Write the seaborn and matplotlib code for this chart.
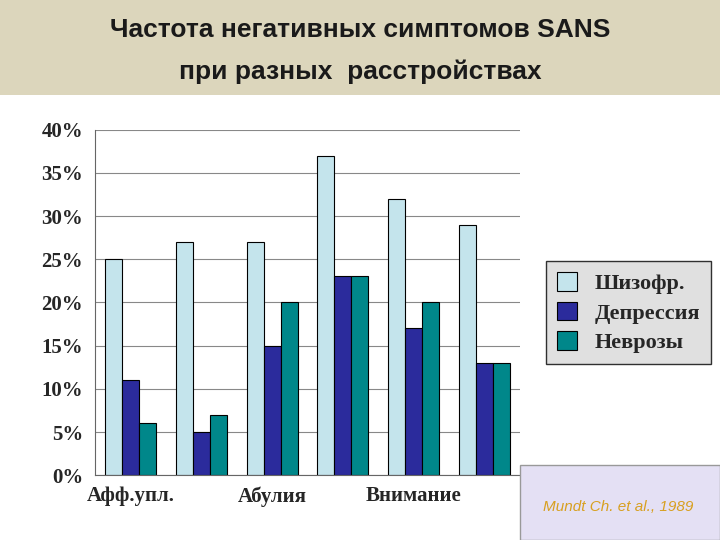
import pandas as pd
import numpy as np
import matplotlib.pyplot as plt
import seaborn as sns
from matplotlib.patches import Rectangle

categories = ['Афф.упл.', 'Алогия', 'Абулия', 'Ангедония', 'Внимание', 'Прочее']
tick_labels = ['Афф.упл.', '', 'Абулия', '', 'Внимание', '']
groups = ['Шизофр.', 'Депрессия', 'Неврозы']
schizo = [25, 27, 27, 37, 32, 29]
depr = [11, 5, 15, 23, 17, 13]
neur = [6, 7, 20, 23, 20, 13]
colors = ['#c4e4ec', '#2b2b9c', '#00878a']

rows = []
for i, c in enumerate(categories):
    for g, vals in zip(groups, [schizo, depr, neur]):
        rows.append({'cat': c, 'grp': g, 'val': vals[i] / 100})
df = pd.DataFrame(rows)

sns.set_style('white')
fig = plt.figure(figsize=(7.2, 5.4), dpi=100)
fig.patch.set_facecolor('white')
fig.patches.append(Rectangle((0, 1 - 95 / 540), 1, 95 / 540, transform=fig.transFigure,
                             facecolor='#dcd6bc', edgecolor='none', zorder=0))
fig.text(0.5, 0.944, 'Частота негативных симптомов SANS', ha='center', va='center',
         fontsize=19, fontweight='bold', family='Liberation Sans', color='#1a1a1a')
fig.text(0.5, 0.867, 'при разных  расстройствах', ha='center', va='center',
         fontsize=19, fontweight='bold', family='Liberation Sans', color='#1a1a1a')

ax = fig.add_axes([0.132, 0.12, 0.59, 0.64])
sns.barplot(data=df, x='cat', y='val', hue='grp', palette=colors, ax=ax,
            edgecolor='black', linewidth=0.8, width=0.72, saturation=1)
ax.set_ylim(0, 0.4)
ax.set_yticks(np.arange(0, 0.41, 0.05))
ax.set_yticklabels([f'{int(round(v * 100))}%' for v in np.arange(0, 0.41, 0.05)],
                   family='Liberation Serif', fontweight='bold', fontsize=15)
ax.set_xticks(range(len(categories)))
ax.set_xticklabels(tick_labels, family='Liberation Serif', fontweight='bold', fontsize=15)
ax.yaxis.grid(True, color='#888888', linewidth=0.8)
ax.set_axisbelow(True)
ax.set_xlabel('')
ax.set_ylabel('')
for s in ['top', 'right']:
    ax.spines[s].set_visible(False)
ax.spines['left'].set_color('#666666')
ax.spines['bottom'].set_color('#666666')
ax.tick_params(axis='y', length=5, color='#666666')
ax.tick_params(axis='x', length=0, pad=8)

leg = ax.legend(loc='center left', bbox_to_anchor=(1.035, 0.47),
                prop={'family': 'Liberation Serif', 'weight': 'bold', 'size': 16},
                frameon=True, fancybox=False, handlelength=0.9, handleheight=0.9,
                borderpad=0.5, labelspacing=0.35)
leg.get_frame().set_facecolor('#d9d9d9')
leg.get_frame().set_edgecolor('black')

fig.patches.append(Rectangle((520 / 720, 0), 200 / 720, 75 / 540, transform=fig.transFigure,
                             facecolor='#e4e0f4', edgecolor='#999999', zorder=0))
fig.text(618 / 720, 33 / 540, 'Mundt Ch. et al., 1989', ha='center', va='center',
         fontsize=11, style='italic', family='Liberation Sans', color='#d8a020')

fig.savefig('out.png', dpi=100)
